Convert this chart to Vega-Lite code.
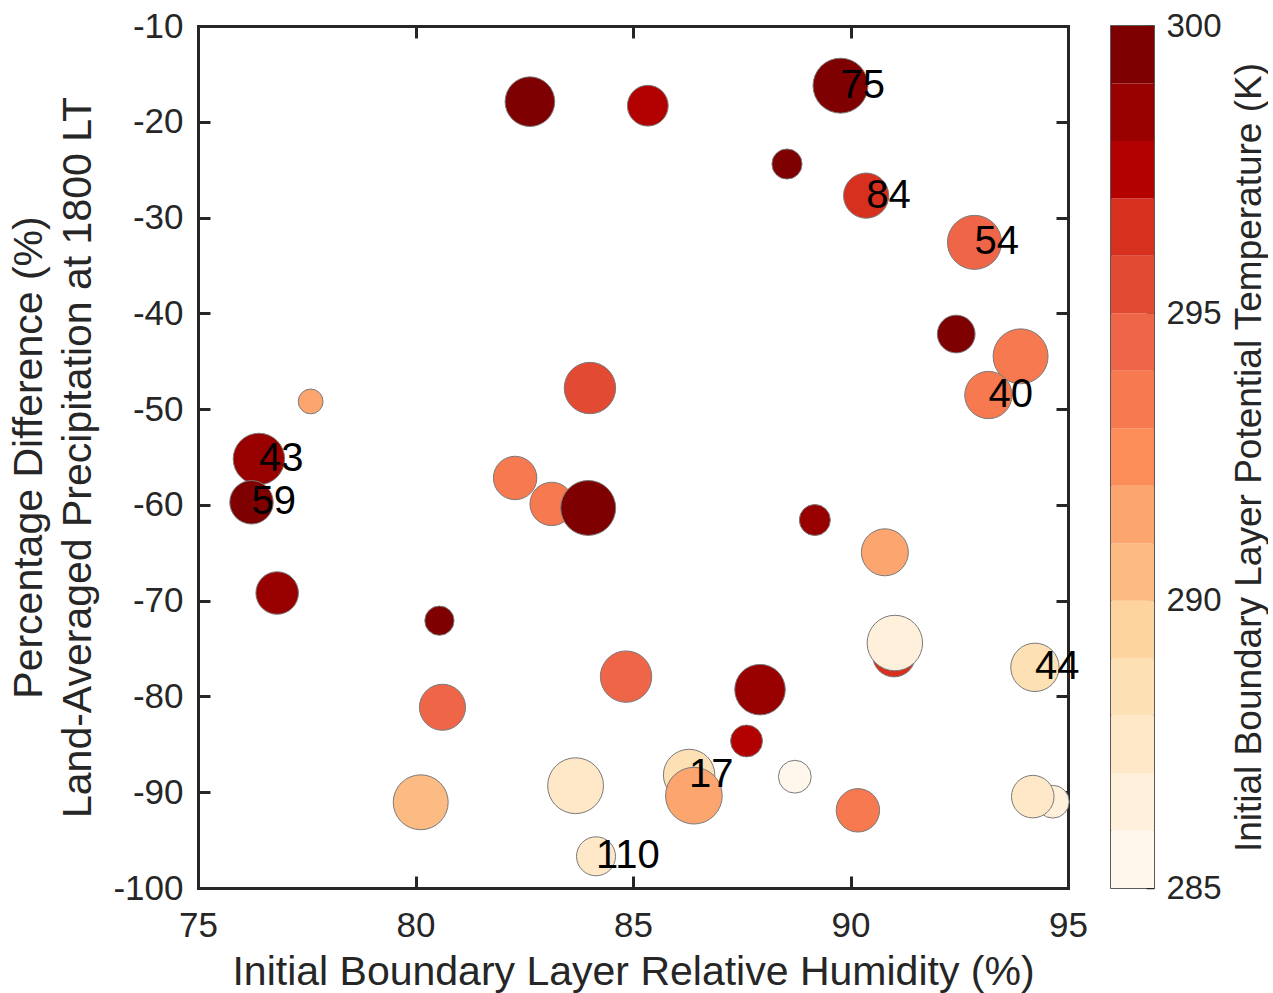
{
  "$schema": "https://vega.github.io/schema/vega-lite/v6.json",
  "padding": {"left": 8, "top": 9, "right": 0, "bottom": 5},
  "background": "white",
  "config": {
    "font": "Liberation Sans",
    "view": {"stroke": null},
    "axis": {
      "grid": false,
      "labelFont": "Liberation Sans",
      "titleFont": "Liberation Sans",
      "labelColor": "#262626",
      "titleColor": "#262626",
      "titleFontWeight": "normal",
      "labelFlush": false,
      "labelOverlap": false,
      "domainColor": "#262626",
      "tickColor": "#262626"
    }
  },
  "datasets": {
    "pts": [
      {"rh": 82.63, "pd": -17.9, "theta": 299.5, "mag": 28},
      {"rh": 85.34, "pd": -18.32, "theta": 297.5, "mag": 23},
      {"rh": 77.59, "pd": -49.2, "theta": 291.5, "mag": 14},
      {"rh": 84.01, "pd": -47.8, "theta": 295.5, "mag": 29},
      {"rh": 76.40, "pd": -55.2, "theta": 298.5, "mag": 29, "label": "43"},
      {"rh": 76.23, "pd": -59.73, "theta": 299.5, "mag": 24.5, "label": "59"},
      {"rh": 82.29, "pd": -57.19, "theta": 293.5, "mag": 24.5},
      {"rh": 83.13, "pd": -59.9, "theta": 293.5, "mag": 24.5},
      {"rh": 83.97, "pd": -60.32, "theta": 299.5, "mag": 31},
      {"rh": 76.82, "pd": -69.2, "theta": 298.5, "mag": 24},
      {"rh": 80.55, "pd": -72.09, "theta": 299.5, "mag": 16.5},
      {"rh": 80.62, "pd": -81.13, "theta": 294.5, "mag": 26},
      {"rh": 84.84, "pd": -77.93, "theta": 294.5, "mag": 29},
      {"rh": 80.12, "pd": -91.05, "theta": 290.5, "mag": 31},
      {"rh": 83.68, "pd": -89.32, "theta": 287.5, "mag": 31.5},
      {"rh": 84.15, "pd": -96.69, "theta": 287.5, "mag": 22, "label": "110"},
      {"rh": 89.77, "pd": -16.23, "theta": 299.5, "mag": 31, "label": "75"},
      {"rh": 88.54, "pd": -24.41, "theta": 299.5, "mag": 17},
      {"rh": 90.36, "pd": -27.71, "theta": 296.5, "mag": 25.5, "label": "84"},
      {"rh": 92.85, "pd": -32.59, "theta": 294.5, "mag": 30.5, "label": "54"},
      {"rh": 92.43, "pd": -42.16, "theta": 299.5, "mag": 21.3},
      {"rh": 93.91, "pd": -44.49, "theta": 293.5, "mag": 31},
      {"rh": 93.17, "pd": -48.53, "theta": 293.5, "mag": 26.7, "label": "40"},
      {"rh": 89.18, "pd": -61.58, "theta": 298.5, "mag": 17.5},
      {"rh": 90.79, "pd": -64.95, "theta": 291.5, "mag": 26.5},
      {"rh": 91.0, "pd": -75.74, "theta": 296.5, "mag": 24},
      {"rh": 91.02, "pd": -74.42, "theta": 286.5, "mag": 31.3},
      {"rh": 94.24, "pd": -76.96, "theta": 288.5, "mag": 27.3, "label": "44"},
      {"rh": 87.92, "pd": -79.29, "theta": 298.5, "mag": 28.5},
      {"rh": 87.61, "pd": -84.65, "theta": 297.5, "mag": 18},
      {"rh": 86.29, "pd": -88.2, "theta": 288.5, "mag": 29, "label": "17"},
      {"rh": 86.40, "pd": -90.36, "theta": 291.5, "mag": 32},
      {"rh": 88.72, "pd": -88.38, "theta": 285.5, "mag": 18.5},
      {"rh": 90.17, "pd": -91.89, "theta": 293.5, "mag": 24.5},
      {"rh": 94.65, "pd": -90.99, "theta": 286.5, "mag": 18.5},
      {"rh": 94.19, "pd": -90.46, "theta": 287.5, "mag": 24}
    ],
    "bar": [
      {"lo": 285, "hi": 286, "theta": 285.5},
      {"lo": 286, "hi": 287, "theta": 286.5},
      {"lo": 287, "hi": 288, "theta": 287.5},
      {"lo": 288, "hi": 289, "theta": 288.5},
      {"lo": 289, "hi": 290, "theta": 289.5},
      {"lo": 290, "hi": 291, "theta": 290.5},
      {"lo": 291, "hi": 292, "theta": 291.5},
      {"lo": 292, "hi": 293, "theta": 292.5},
      {"lo": 293, "hi": 294, "theta": 293.5},
      {"lo": 294, "hi": 295, "theta": 294.5},
      {"lo": 295, "hi": 296, "theta": 295.5},
      {"lo": 296, "hi": 297, "theta": 296.5},
      {"lo": 297, "hi": 298, "theta": 297.5},
      {"lo": 298, "hi": 299, "theta": 298.5},
      {"lo": 299, "hi": 300, "theta": 299.5}
    ]
  },
  "resolve": {"scale": {"color": "shared"}},
  "spacing": 22,
  "hconcat": [
    {
      "width": 870,
      "height": 862,
      "data": {"name": "pts"},
      "layer": [
        {
          "mark": {"type": "circle", "opacity": 1, "stroke": "#7a7a7a", "strokeWidth": 1},
          "encoding": {
            "x": {
              "field": "rh", "type": "quantitative",
              "scale": {"domain": [75, 95], "nice": false, "zero": false},
              "axis": {
                "orient": "bottom", "values": [75, 80, 85, 90, 95],
                "labelExpr": "datum.value + ''",
                "title": "Initial Boundary Layer Relative Humidity (%)",
                "labelFontSize": 35, "titleFontSize": 41,
                "tickSize": -12, "tickWidth": 3, "domainWidth": 3, "domainCap": "square",
                "labelPadding": 32, "titlePadding": 9
              }
            },
            "y": {
              "field": "pd", "type": "quantitative",
              "scale": {"domain": [-100, -10], "nice": false, "zero": false},
              "axis": {
                "orient": "left", "values": [-100, -90, -80, -70, -60, -50, -40, -30, -20, -10],
                "labelExpr": "datum.value + ''",
                "title": ["Percentage Difference (%)", "Land-Averaged Precipitation at 1800 LT"],
                "labelFontSize": 35, "titleFontSize": 41, "titleLineHeight": 49,
                "tickSize": -12, "tickWidth": 3, "domainWidth": 3, "domainCap": "square",
                "labelPadding": 27, "titlePadding": 13
              }
            },
            "size": {
              "field": "mag", "type": "quantitative",
              "scale": {"type": "pow", "exponent": 2, "domain": [0, 32], "range": [0, 3217]},
              "legend": null
            },
            "color": {
              "field": "theta", "type": "quantitative",
              "scale": {
                "type": "quantize", "domain": [285, 300],
                "range": ["#fff7ec", "#fff0dc", "#fee8c8", "#fde0b4", "#fdd49e", "#fdbb84", "#fca56e", "#fc8d59", "#f67950", "#ef6548", "#e34a33", "#d7301f", "#b30000", "#990000", "#7f0000"]
              },
              "legend": null
            }
          }
        },
        {
          "transform": [{"filter": "datum.label != null"}],
          "mark": {"type": "text", "align": "left", "baseline": "middle", "fontSize": 40, "color": "#000000", "font": "Liberation Sans"},
          "encoding": {
            "x": {
              "field": "rh", "type": "quantitative",
              "scale": {"domain": [75, 95], "nice": false, "zero": false},
              "axis": {
                "orient": "top", "values": [75, 80, 85, 90, 95], "labels": false, "title": null,
                "tickSize": -12, "tickWidth": 3, "domainWidth": 3, "domainCap": "square"
              }
            },
            "y": {
              "field": "pd", "type": "quantitative",
              "scale": {"domain": [-100, -10], "nice": false, "zero": false},
              "axis": {
                "orient": "right", "values": [-100, -90, -80, -70, -60, -50, -40, -30, -20, -10], "labels": false, "title": null,
                "tickSize": -12, "tickWidth": 3, "domainWidth": 3, "domainCap": "square"
              }
            },
            "text": {"field": "label"}
          }
        }
      ],
      "resolve": {"axis": {"x": "independent", "y": "independent"}}
    },
    {
      "width": 43,
      "height": 862,
      "data": {"name": "bar"},
      "view": {"stroke": "#262626", "strokeWidth": 1.5},
      "mark": {"type": "rect"},
      "encoding": {
        "y": {
          "field": "lo", "type": "quantitative",
          "scale": {"domain": [285, 300], "nice": false, "zero": false},
          "axis": {
            "orient": "right", "values": [285, 290, 295, 300],
            "title": "Initial Boundary Layer Potential Temperature (K)",
            "titleAngle": 270, "titleBaseline": "top", "titleFontSize": 37, "labelFontSize": 33,
            "domain": false, "tickSize": -8, "tickWidth": 1.5,
            "labelPadding": 20, "titlePadding": 10
          }
        },
        "y2": {"field": "hi"},
        "color": {
          "field": "theta", "type": "quantitative",
          "scale": {
            "type": "quantize", "domain": [285, 300],
            "range": ["#fff7ec", "#fff0dc", "#fee8c8", "#fde0b4", "#fdd49e", "#fdbb84", "#fca56e", "#fc8d59", "#f67950", "#ef6548", "#e34a33", "#d7301f", "#b30000", "#990000", "#7f0000"]
          },
          "legend": null
        }
      }
    }
  ]
}
